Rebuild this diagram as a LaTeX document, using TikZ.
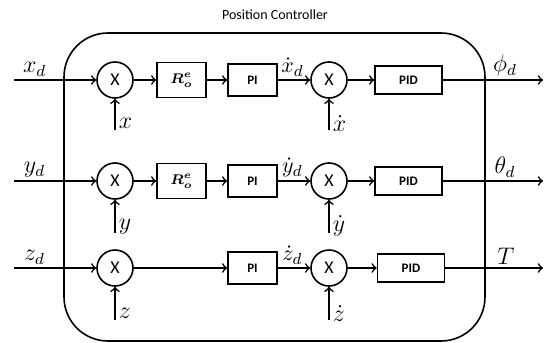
\documentclass[tikz,border=0pt]{standalone}
\usepackage{fontspec}
\usepackage{amsmath}
\usepackage{bm}
\setsansfont{Carlito}
\usetikzlibrary{positioning,arrows}

\begin{document}
\begin{tikzpicture}[x=0.5pt, y=-0.5pt, line width=0.8pt,
    every node/.style={font=\sffamily},
    sumnode/.style={circle, draw, minimum size=18pt, inner sep=0pt, font=\sffamily\fontsize{9}{10}\selectfont},
    rbox/.style={rectangle, draw, minimum width=24.5pt, minimum height=17.5pt, inner sep=0pt, font=\scriptsize},
    pibox/.style={rectangle, draw, minimum width=24.5pt, minimum height=16pt, inner sep=0pt, font=\sffamily\bfseries\fontsize{6.5}{7}\selectfont},
    pidbox/.style={rectangle, draw, minimum width=33.5pt, minimum height=14pt, inner sep=0pt, font=\sffamily\bfseries\fontsize{6.5}{7}\selectfont},
    sig/.style={font=\fontsize{12}{14}\selectfont, inner sep=1.5pt},
    rate/.style={font=\fontsize{11}{13}\selectfont, inner sep=0.5pt, above=1pt}]
    \useasboundingbox (0,0) rectangle (550,342);

    % Controller frame
    \draw[rounded corners=22pt] (64,33) rectangle (485,341);
    \node[font=\sffamily\fontsize{7}{8}\selectfont] (title) at (275,15) {Position Controller};

    % x channel
    \node[sumnode] (sx1) at (115,80) {X};
    \node[rbox] (rx) at (181.5,80) {$\bm{R_o^e}$};
    \node[pibox] (pix) at (252.5,80) {PI};
    \node[sumnode] (sx2) at (329,80) {X};
    \node[pidbox] (pidx) at (408.5,80) {PID};
    \coordinate (xin) at (14,80);
    \coordinate (xout) at (543,80);
    \coordinate (xfb) at (115,130);
    \coordinate (xdfb) at (329,130);

    % y channel
    \node[sumnode] (sy1) at (115,181) {X};
    \node[rbox] (ry) at (181.5,181) {$\bm{R_o^e}$};
    \node[pibox] (piy) at (252.5,181) {PI};
    \node[sumnode] (sy2) at (329,181) {X};
    \node[pidbox] (pidy) at (408.5,181) {PID};
    \coordinate (yin) at (14,181);
    \coordinate (yout) at (543,181);
    \coordinate (yfb) at (115,233);
    \coordinate (ydfb) at (329,233);

    % z channel
    \node[sumnode] (sz1) at (115,268) {X};
    \node[pibox] (piz) at (252.5,268) {PI};
    \node[sumnode] (sz2) at (329,268) {X};
    \node[pidbox] (pidz) at (411,268) {PID};
    \coordinate (zin) at (14,268);
    \coordinate (zout) at (543,268);
    \coordinate (zfb) at (115,320);
    \coordinate (zdfb) at (329,320);

    % Signal flow
    \draw[->] (xin) -- node[sig, above, pos=0.25] (lxd) {$x_d$} (sx1);
    \draw[->] (sx1) -- (rx);
    \draw[->] (rx) -- (pix);
    \draw[->] (pix) -- node[rate, pos=0.45] (lxdd) {$\dot{x}_d$} (sx2);
    \draw[->] (sx2) -- (pidx);
    \draw[->] (pidx) -- node[sig, above, pos=0.62] (lphi) {$\phi_d$} (xout);
    \draw[->] (xfb) -- node[sig, right, pos=0.2] (lx) {$x$} (sx1);
    \draw[->] (xdfb) -- node[sig, right, pos=0.2] (lxdot) {$\dot{x}$} (sx2);

    \draw[->] (yin) -- node[sig, above, pos=0.25] (lyd) {$y_d$} (sy1);
    \draw[->] (sy1) -- (ry);
    \draw[->] (ry) -- (piy);
    \draw[->] (piy) -- node[rate, pos=0.45] (lydd) {$\dot{y}_d$} (sy2);
    \draw[->] (sy2) -- (pidy);
    \draw[->] (pidy) -- node[sig, above, pos=0.62] (ltheta) {$\theta_d$} (yout);
    \draw[->] (yfb) -- node[sig, right, pos=0.2] (ly) {$y$} (sy1);
    \draw[->] (ydfb) -- node[sig, right, pos=0.2] (lydot) {$\dot{y}$} (sy2);

    \draw[->] (zin) -- node[sig, above, pos=0.25] (lzd) {$z_d$} (sz1);
    \draw[->] (sz1) -- (piz);
    \draw[->] (piz) -- node[rate, pos=0.45] (lzdd) {$\dot{z}_d$} (sz2);
    \draw[->] (sz2) -- (pidz);
    \draw[->] (pidz) -- node[sig, above, pos=0.62] (lT) {$T$} (zout);
    \draw[->] (zfb) -- node[sig, right, pos=0.2] (lz) {$z$} (sz1);
    \draw[->] (zdfb) -- node[sig, right, pos=0.2] (lzdot) {$\dot{z}$} (sz2);
\end{tikzpicture}
\end{document}
